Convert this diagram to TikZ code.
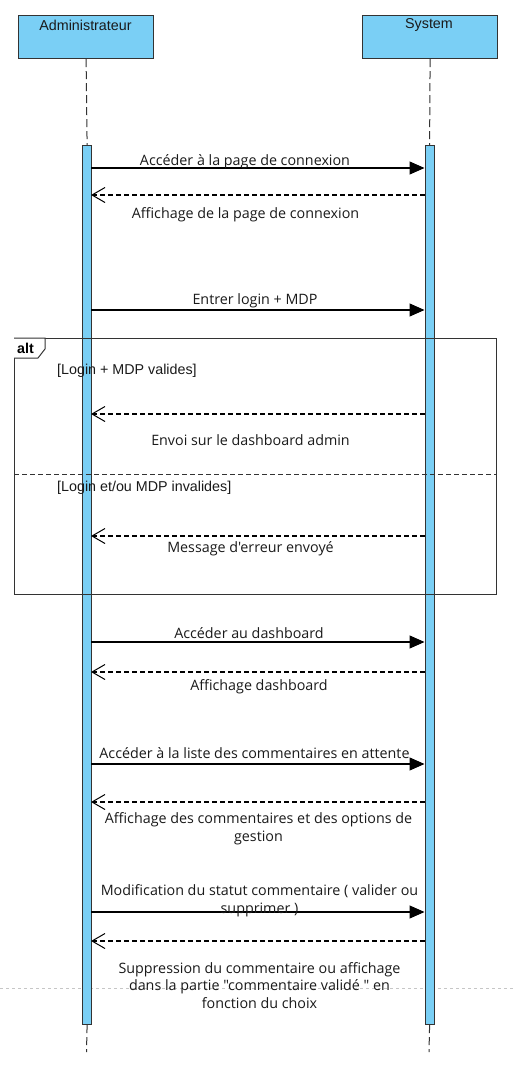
\documentclass[tikz,border=0pt]{standalone}
\usepackage{fontspec}
\setmainfont{Open Sans}[Ligatures=TeXOff]
\newfontfamily\arialf{Liberation Sans}[Ligatures=TeXOff]
\usetikzlibrary{arrows.meta}
\definecolor{lifeblue}{RGB}{122,207,245}
\definecolor{edgegray}{RGB}{51,51,51}
\definecolor{txt}{RGB}{26,26,26}
\begin{document}
\begin{tikzpicture}[x=1pt,y=-1pt,
  actor/.style={draw=edgegray,line width=1.2pt,fill=lifeblue,minimum width=135pt,minimum height=43pt,anchor=north west,inner sep=0pt},
  actlabel/.style={font=\arialf\fontsize{14.3}{16}\selectfont,text=txt},
  bar/.style={draw=edgegray,line width=1.2pt,fill=lifeblue,minimum width=9pt,anchor=north west,inner sep=0pt},
  lifeline/.style={draw=edgegray,line width=1pt,dash pattern=on 8pt off 4pt},
  call/.style={draw=black,line width=1.1pt,-{Triangle[length=15pt,width=13pt]}},
  reply/.style={draw=black,line width=1.1pt,dash pattern=on 5pt off 3pt,-{Straight Barb[length=13pt,width=15pt,line width=1pt]}},
  msg/.style={font=\fontsize{14.3}{17.5}\selectfont,text=txt,align=center,inner sep=0pt,yshift=-2pt},
  guard/.style={font=\arialf\fontsize{14.3}{16}\selectfont,text=txt,anchor=west,inner sep=0pt,yshift=-1.5pt}]
\useasboundingbox[fill=white] (0,0) rectangle (515,1070);
% page break guide
\draw[gray!45,line width=0.6pt,dash pattern=on 3pt off 3pt] (0,988) -- (515,988);
% actors
\node[actor] (adm) at (18,15) {};
\node[actor] (sys) at (362,15) {};
\node[actlabel] (admlbl) at (85.5,25) {Administrateur};
\node[actlabel] (syslbl) at (429,25) {System};
% activation bars
\node[bar,minimum height=879pt] (abar) at (82,145) {};
\node[bar,minimum height=879pt] (sbar) at (424.5,145) {};
\coordinate (aend) at (86.5,1052);
\coordinate (send) at (429,1052);
\draw[lifeline] (adm.south) -- (abar.north);
\draw[lifeline] (sys.south) -- (sbar.north);
\draw[lifeline] (abar.south) -- (aend);
\draw[lifeline] (sbar.south) -- (send);
% alt frame
\node[draw=edgegray,line width=1.2pt,minimum width=482pt,minimum height=256pt,anchor=north west,inner sep=0pt] (alt) at (14,338) {};
\draw[edgegray,line width=1pt,fill=white] (alt.north west) -- ++(31,0) -- ++(0,11) -- ++(-7,9) -- ++(-24,0);
\node[font=\arialf\bfseries\fontsize{14.3}{16}\selectfont,text=black,anchor=west,inner sep=0pt] (altlbl) at (17,348) {alt};
\coordinate (divl) at (14,474);
\coordinate (divr) at (496,474);
\draw[edgegray,line width=1pt,dash pattern=on 5pt off 3pt] (divl) -- (divr);
\node[guard] (g1) at (57,369) {[Login + MDP valides]};
\node[guard] (g2) at (57,486) {[Login et/ou MDP invalides]};
% message endpoints
\foreach \n/\y in {1/168,2/195,3/310,4/414,5/536,6/642,7/672,8/764,9/802,10/912,11/941}{
  \coordinate (a\n) at (91,\y);
  \coordinate (s\n) at (424.5,\y);
}
\draw[call] (a1) -- (s1);
\draw[reply] (s2) -- (a2);
\draw[call] (a3) -- (s3);
\draw[reply] (s4) -- (a4);
\draw[reply] (s5) -- (a5);
\draw[call] (a6) -- (s6);
\draw[reply] (s7) -- (a7);
\draw[call] (a8) -- (s8);
\draw[reply] (s9) -- (a9);
\draw[call] (a10) -- (s10);
\draw[reply] (s11) -- (a11);
% labels
\node[msg] (m1) at (245,160) {Accéder à la page de connexion};
\node[msg] (m2) at (245.5,213) {Affichage de la page de connexion};
\node[msg] (m3) at (255,299) {Entrer login + MDP};
\node[msg] (m4) at (250.5,438) {Envoi sur le dashboard admin};
\node[msg] (m5) at (250.5,547) {Message d'erreur envoyé};
\node[msg] (m6) at (249,631) {Accéder au dashboard};
\node[msg] (m7) at (259,685) {Affichage dashboard};
\node[msg] (m8) at (254.5,751) {Accéder à la liste des commentaires en attente};
\node[msg] (m9) at (258.5,826.5) {Affichage des commentaires et des options de\\gestion};
\node[msg] (m10) at (259.5,898.5) {Modification du statut commentaire ( valider ou\\supprimer )};
\node[msg] (m11) at (259.5,983.5) {Suppression du commentaire ou affichage\\dans la partie "commentaire validé " en\\fonction du choix};
\end{tikzpicture}
\end{document}
